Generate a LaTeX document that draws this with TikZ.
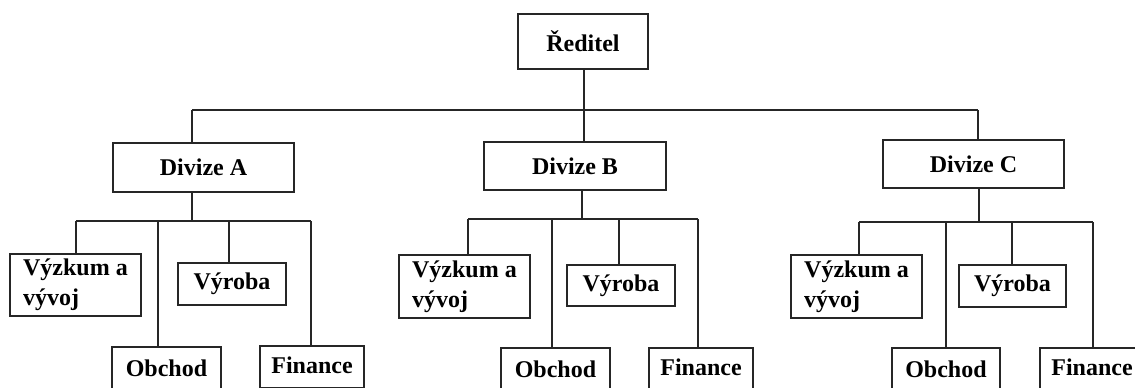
\documentclass[tikz,border=0pt]{standalone}
\usepackage{fontspec}
\setmainfont{Liberation Serif}
\begin{document}
\begin{tikzpicture}[x=1bp,y=-1bp,
  box/.style={draw=black!85, line width=1.6bp, fill=white, inner sep=0pt,
    font=\fontsize{24bp}{30bp}\selectfont\bfseries, text=black},
  twoline/.style={box, align=left},
  link/.style={draw=black!85, line width=1.6bp}]
\useasboundingbox (0,0) rectangle (1135,387);
\clip (0,0) rectangle (1135,387);

% top level
\node[box, minimum width=130bp, minimum height=55bp] (dir) at (583,41.5) {Ředitel};

% divisions
\node[box, minimum width=181bp, minimum height=49bp] (dA) at (203.5,167.5) {Divize A};
\node[box, minimum width=182bp, minimum height=48bp] (dB) at (575,166) {Divize B};
\node[box, minimum width=181bp, minimum height=48bp] (dC) at (973.5,164) {Divize C};

% departments of division A
\node[twoline, minimum width=131bp, minimum height=62bp] (vaA) at (75.5,285) {Výzkum a\\vývoj};
\node[box, minimum width=108bp, minimum height=42bp] (vyA) at (232,284) {Výroba};
\node[box, minimum width=109bp, minimum height=42bp] (obA) at (166.5,368) {Obchod};
\node[box, minimum width=104bp, minimum height=42bp, text depth=4bp] (fiA) at (312,367) {Finance};

% departments of division B
\node[twoline, minimum width=131bp, minimum height=63bp] (vaB) at (464.5,286.5) {Výzkum a\\vývoj};
\node[box, minimum width=108bp, minimum height=41bp] (vyB) at (621,285.5) {Výroba};
\node[box, minimum width=109bp, minimum height=42bp] (obB) at (555.5,369) {Obchod};
\node[box, minimum width=104bp, minimum height=42bp, text depth=4bp] (fiB) at (701,369) {Finance};

% departments of division C
\node[twoline, minimum width=131bp, minimum height=63bp] (vaC) at (856.5,286.5) {Výzkum a\\vývoj};
\node[box, minimum width=107bp, minimum height=42bp] (vyC) at (1012.5,286) {Výroba};
\node[box, minimum width=108bp, minimum height=42bp] (obC) at (946,369) {Obchod};
\node[box, minimum width=104bp, minimum height=42bp, text depth=4bp] (fiC) at (1092,369) {Finance};

% top bus
\coordinate (t0) at (584,110);
\coordinate (tA) at (192,110);
\coordinate (tB) at (584,110);
\coordinate (tC) at (978,110);
\draw[link] (dir.south -| t0) -- (t0);
\draw[link] (tA) -- (tC);
\draw[link] (tA) -- (tA |- dA.north);
\draw[link] (tB) -- (tB |- dB.north);
\draw[link] (tC) -- (tC |- dC.north);

% bus under division A
\coordinate (jA) at (192,221);
\coordinate (a1) at (76,221);
\coordinate (a2) at (158,221);
\coordinate (a3) at (229,221);
\coordinate (a4) at (311,221);
\draw[link] (dA.south -| jA) -- (jA);
\draw[link] (a1) -- (a4);
\draw[link] (a1) -- (a1 |- vaA.north);
\draw[link] (a2) -- (a2 |- obA.north);
\draw[link] (a3) -- (a3 |- vyA.north);
\draw[link] (a4) -- (a4 |- fiA.north);

% bus under division B
\coordinate (jB) at (582,219);
\coordinate (b1) at (468,219);
\coordinate (b2) at (552,219);
\coordinate (b3) at (619,219);
\coordinate (b4) at (698,219);
\draw[link] (dB.south -| jB) -- (jB);
\draw[link] (b1) -- (b4);
\draw[link] (b1) -- (b1 |- vaB.north);
\draw[link] (b2) -- (b2 |- obB.north);
\draw[link] (b3) -- (b3 |- vyB.north);
\draw[link] (b4) -- (b4 |- fiB.north);

% bus under division C
\coordinate (jC) at (979,222);
\coordinate (c1) at (859,222);
\coordinate (c2) at (946,222);
\coordinate (c3) at (1012,222);
\coordinate (c4) at (1093,222);
\draw[link] (dC.south -| jC) -- (jC);
\draw[link] (c1) -- (c4);
\draw[link] (c1) -- (c1 |- vaC.north);
\draw[link] (c2) -- (c2 |- obC.north);
\draw[link] (c3) -- (c3 |- vyC.north);
\draw[link] (c4) -- (c4 |- fiC.north);
\end{tikzpicture}
\end{document}
